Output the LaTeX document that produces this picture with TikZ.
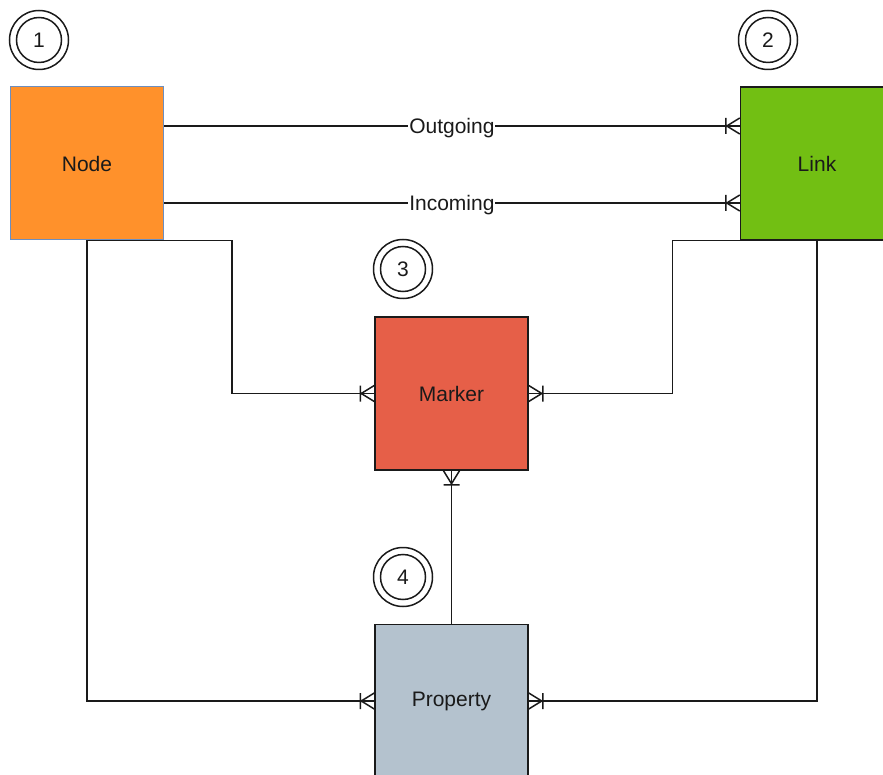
\documentclass[tikz,border=0pt]{standalone}
\usepackage{fontspec}
\setmainfont{Liberation Sans}
\definecolor{nodefill}{HTML}{FF912B}
\definecolor{nodeline}{HTML}{6C8EBF}
\definecolor{linkfill}{HTML}{72BF13}
\definecolor{markerfill}{HTML}{E65F48}
\definecolor{propfill}{HTML}{B4C2CE}
\definecolor{ink}{HTML}{1A1A1A}

% crow's foot with a bar: "one or many"
\pgfdeclarearrow{
  name = ERmany,
  setup code = {
    \pgfarrowssettipend{0pt}
    \pgfarrowssetlineend{0pt}
    \pgfarrowssetvisualbackend{-15pt}
    \pgfarrowssetbackend{-15pt}
    \pgfarrowsupperhullpoint{0pt}{8pt}
    \pgfarrowsupperhullpoint{-15pt}{8pt}
  },
  drawing code = {
    \pgfsetdash{}{0pt}
    \pgfsetroundjoin
    \pgfpathmoveto{\pgfqpoint{0pt}{8pt}}
    \pgfpathlineto{\pgfqpoint{-13pt}{0pt}}
    \pgfpathlineto{\pgfqpoint{0pt}{-8pt}}
    \pgfpathmoveto{\pgfqpoint{-14pt}{8pt}}
    \pgfpathlineto{\pgfqpoint{-14pt}{-8pt}}
    \pgfusepathqstroke
  }
}

\tikzset{
  txt/.style={font=\fontsize{21}{24}\selectfont, text=ink},
  entity/.style={txt, draw=ink, line width=1.5pt, minimum width=153pt, minimum height=153pt,
    inner sep=0pt},
  ring/.style={txt, circle, draw=ink, line width=1.5pt, minimum size=45pt, inner sep=0pt},
  rel/.style={draw=ink, line width=1.5pt},
  many/.style={rel, -ERmany},
  tag/.style={txt, fill=white, inner sep=1pt, yshift=-2pt},
}

\begin{document}
\begin{tikzpicture}[x=1pt, y=-1pt]
  \useasboundingbox (0,0) rectangle (883,775);
  \clip (0,0) rectangle (883,775);

  % entities
  \node[entity, fill=nodefill, draw=nodeline, line width=1pt] (Node) at (87,163.5) {Node};
  \node[entity, fill=linkfill] (Link) at (817,163.5) {Link};
  \node[entity, fill=markerfill] (Marker) at (451.5,393.5) {Marker};
  \node[entity, fill=propfill] (Property) at (451.5,701) {Property};

  % numbered badges
  \node[ring] (b1) at (39,40) {1};
  \node[ring] (b2) at (768,40) {2};
  \node[ring] (b3) at (403,269) {3};
  \node[ring] (b4) at (403,577) {4};
  \foreach \b in {b1,b2,b3,b4}
    \draw[ink, line width=1.5pt] (\b) circle[radius=29.5pt];

  % Node <-> Link
  \draw[many] (Node.east |- 0,126) -- node[tag] {Outgoing} (Link.west |- 0,126);
  \draw[many] (Node.east |- 0,203) -- node[tag] {Incoming} (Link.west |- 0,203);

  % to Marker
  \coordinate (nm) at (232,240.5);
  \coordinate (lm) at (672.5,240.5);
  \draw[many] (Node.south |- nm) -- (nm) |- (Marker.west);
  \draw[many] (Link.south |- lm) -- (lm) |- (Marker.east);

  % to Property
  \draw[many] (Node.south |- nm) |- (Property.west);
  \draw[many] (Link.south |- lm) |- (Property.east);

  % Property -> Marker
  \draw[many] (Property.north) -- (Marker.south);
\end{tikzpicture}
\end{document}
